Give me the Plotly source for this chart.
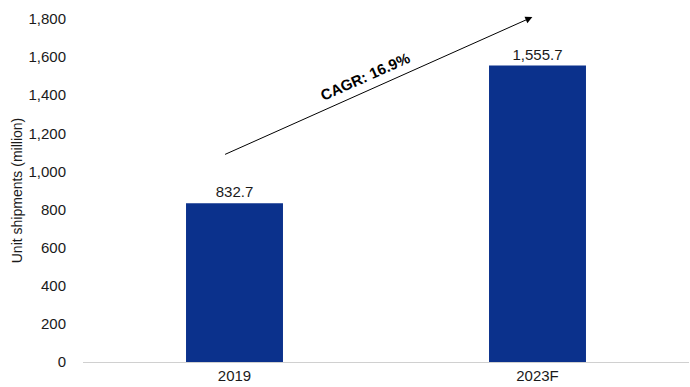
import plotly.graph_objects as go

# Unit shipments by year
years = ["2019", "2023F"]
shipments = [832.7, 1555.7]
value_labels = ["832.7", "1,555.7"]
cagr_label = "CAGR: 16.9%"

y_ticks = [0, 200, 400, 600, 800, 1000, 1200, 1400, 1600, 1800]
y_tick_text = ["0", "200", "400", "600", "800", "1,000", "1,200", "1,400", "1,600", "1,800"]

bar_color = "#0B318C"
font_family = "Liberation Sans, Arial, sans-serif"

fig = go.Figure()
fig.add_trace(go.Bar(
    x=years,
    y=shipments,
    marker=dict(color=bar_color, line=dict(width=0)),
    width=0.32,
    text=value_labels,
    textposition="outside",
    textfont=dict(size=15, color="#1a1a1a", family=font_family),
    cliponaxis=False,
))

# Growth arrow from the first bar towards the second
fig.add_annotation(
    x=0.983, y=1810, xref="x", yref="y",
    ax=-0.036, ay=1086, axref="x", ayref="y",
    text="", showarrow=True,
    arrowhead=2, arrowsize=1.4, arrowwidth=1, arrowcolor="#000000",
)
fig.add_annotation(
    x=0.43, y=1500, xref="x", yref="y",
    text="<b>" + cagr_label + "</b>", showarrow=False,
    textangle=-24,
    font=dict(size=15, color="#000000", family=font_family),
)

fig.update_layout(
    width=690, height=387,
    margin=dict(l=83, r=1, t=19, b=25),
    paper_bgcolor="white", plot_bgcolor="white",
    showlegend=False,
    bargap=0.68,
    font=dict(family=font_family, size=15, color="#1a1a1a"),
    xaxis=dict(
        showgrid=False, showline=True, linecolor="#d0d0d0", linewidth=1,
        ticks="", tickfont=dict(size=15),
    ),
    yaxis=dict(
        range=[0, 1800], tickvals=y_ticks, ticktext=y_tick_text,
        showgrid=False, showline=False, zeroline=False,
        ticks="", tickfont=dict(size=15), ticklabelstandoff=16,
        title=dict(text="Unit shipments (million)", font=dict(size=14), standoff=2),
    ),
)

fig.write_html("out.html")
